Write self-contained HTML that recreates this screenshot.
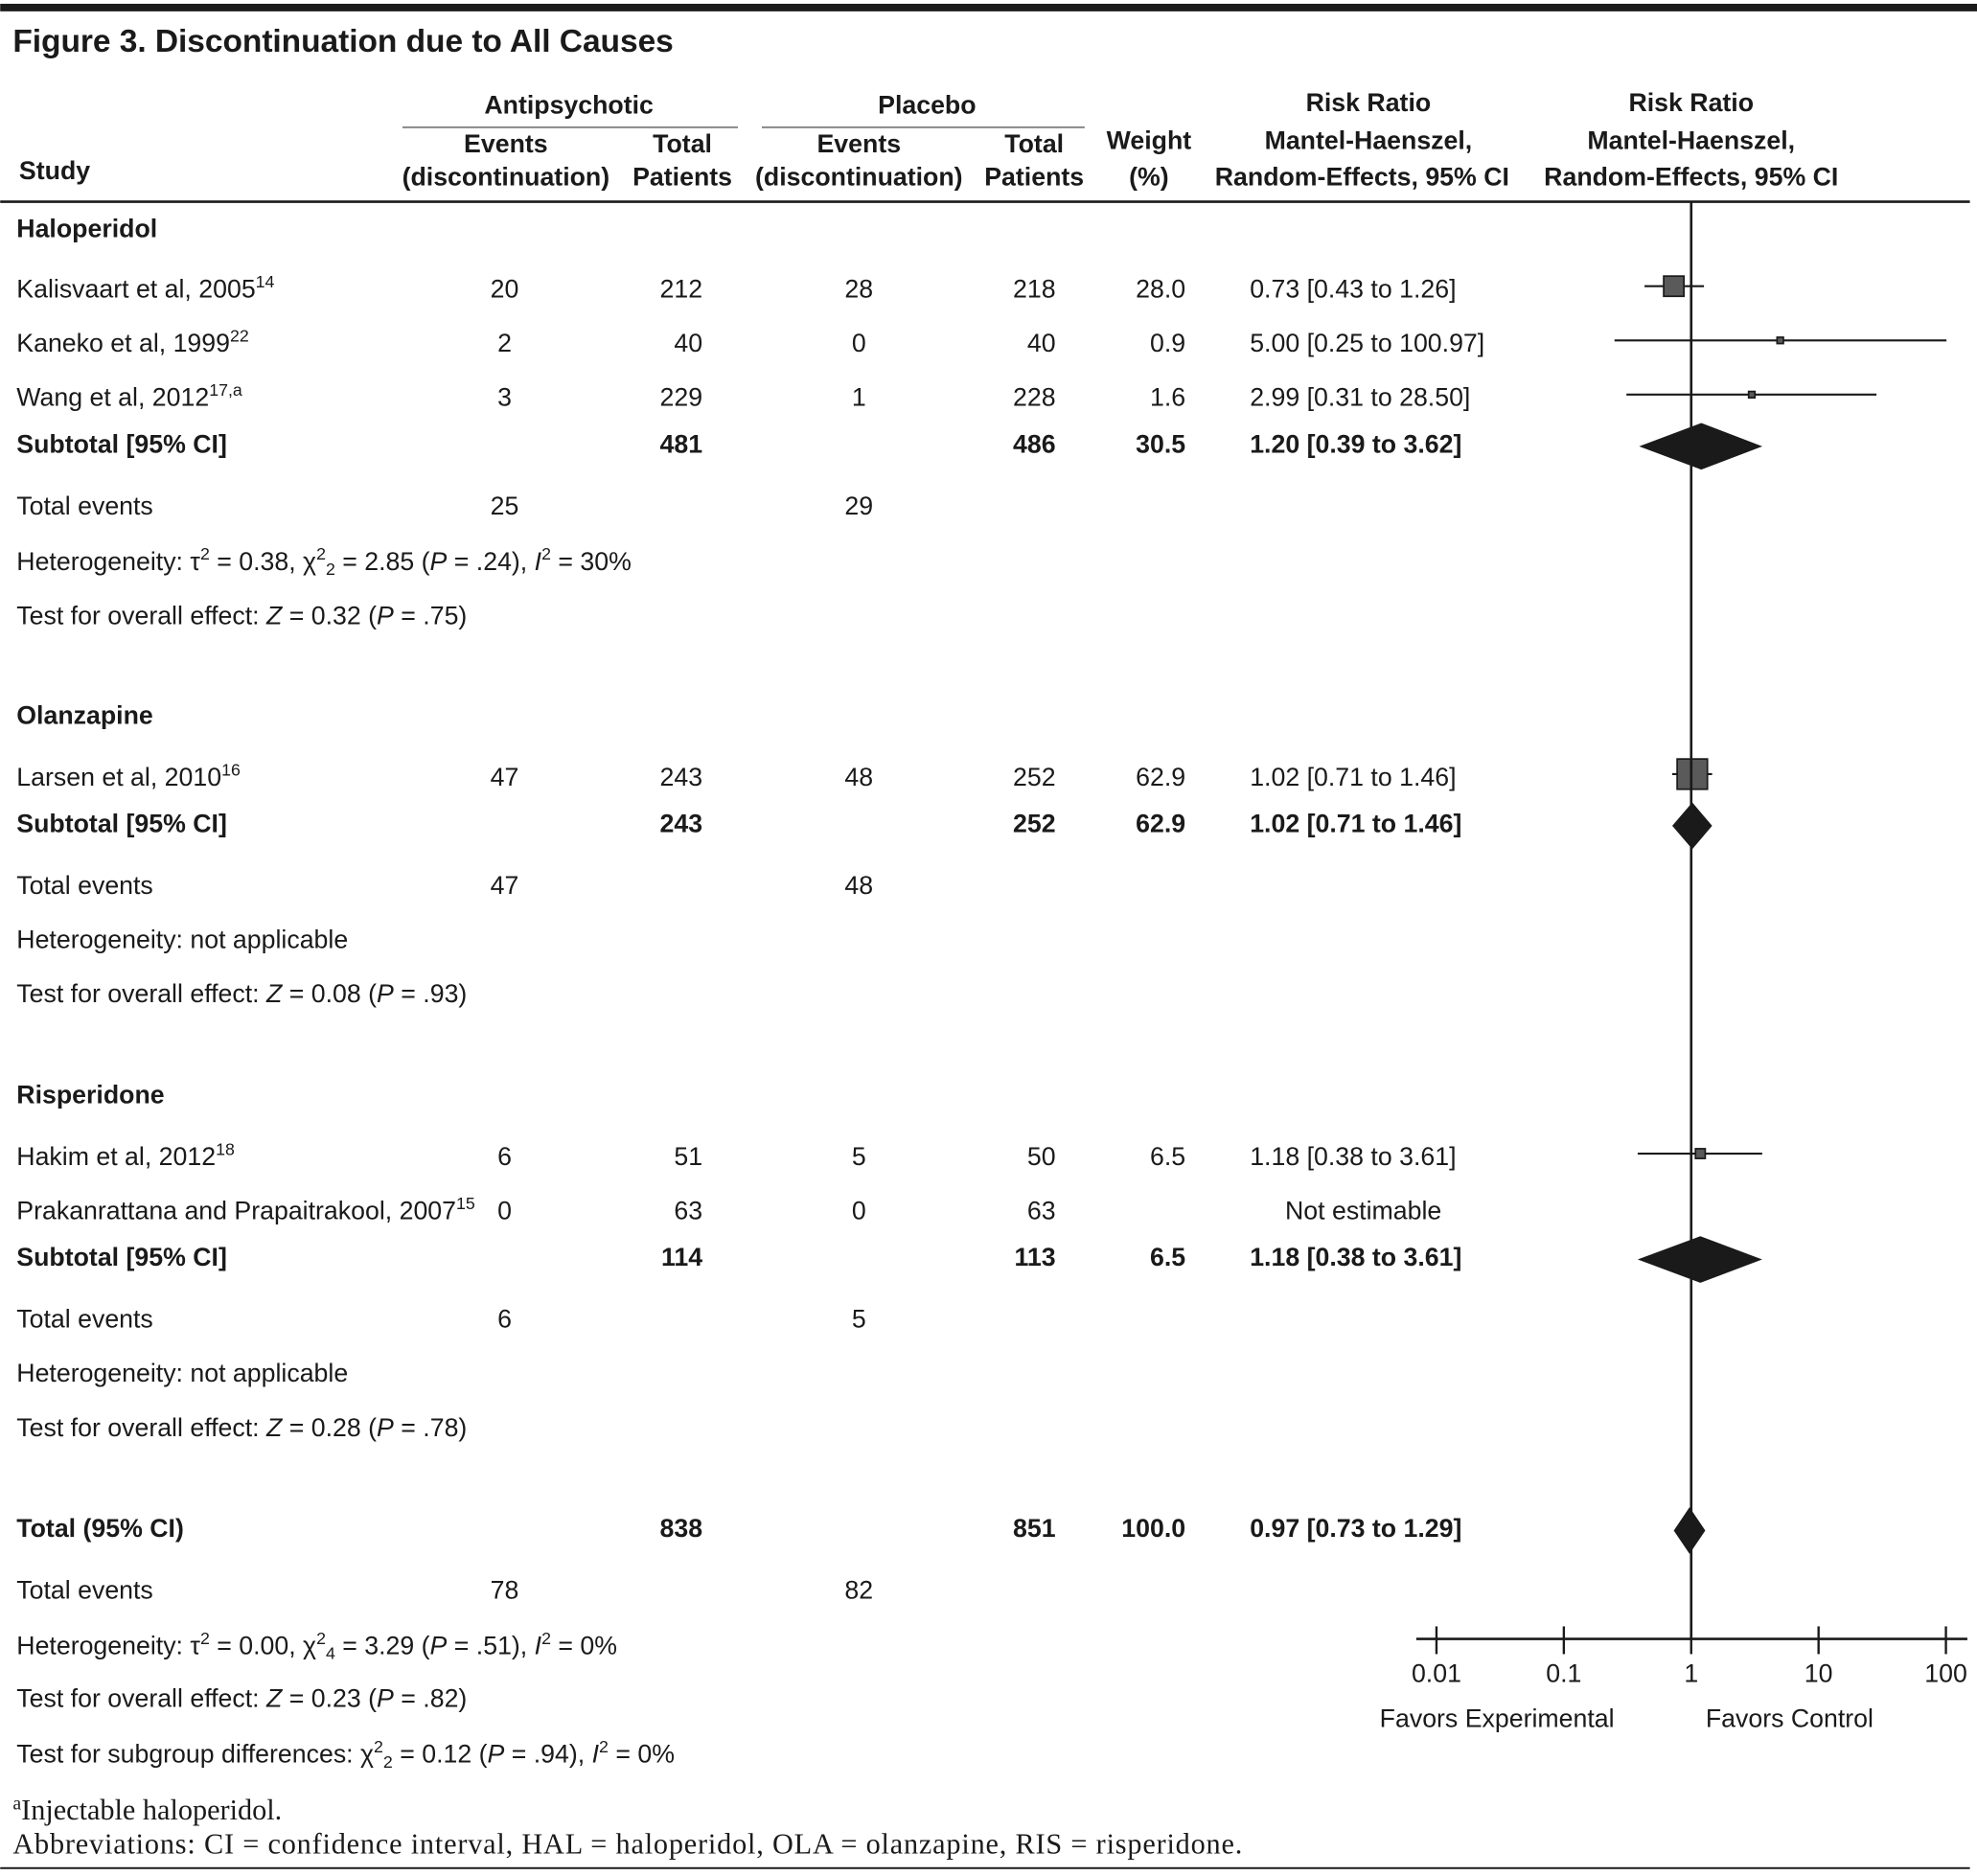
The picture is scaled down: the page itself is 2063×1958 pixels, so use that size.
<!DOCTYPE html>
<html><head><meta charset="utf-8"><style>
html,body{margin:0;padding:0;background:#fff}
svg{display:block}
text{font-family:"Liberation Sans",sans-serif;fill:#1a1a1a}
.b{font-weight:bold}
.s{font-family:"Liberation Serif",serif}
</style></head><body>
<svg id="fig" width="2063" height="1958" viewBox="0 0 1567.5 1488" xmlns="http://www.w3.org/2000/svg">
<rect x="0" y="3" width="1568" height="6" fill="#1a1a1a"/>
<text class="b" x="10" y="41" font-size="25.5" textLength="524">Figure 3. Discontinuation due to All Causes</text>
<g font-size="20.3" class="b" text-anchor="middle">
<text class="b" x="451" y="90">Antipsychotic</text>
<line x1="319" x2="585" y1="101" y2="101" stroke="#888" stroke-width="1.5"/>
<text class="b" x="735" y="90">Placebo</text>
<line x1="604" x2="860" y1="101" y2="101" stroke="#888" stroke-width="1.5"/>
<text class="b" x="401" y="121">Events</text><text class="b" x="401" y="147">(discontinuation)</text>
<text class="b" x="541" y="121">Total</text><text class="b" x="541" y="147">Patients</text>
<text class="b" x="681" y="121">Events</text><text class="b" x="681" y="147">(discontinuation)</text>
<text class="b" x="820" y="121">Total</text><text class="b" x="820" y="147">Patients</text>
<text class="b" x="911" y="118">Weight</text><text class="b" x="911" y="147">(%)</text>
<text class="b" x="1085" y="88">Risk Ratio</text><text class="b" x="1085" y="118">Mantel-Haenszel,</text><text class="b" x="1080" y="147">Random-Effects, 95% CI</text>
<text class="b" x="1341" y="88">Risk Ratio</text><text class="b" x="1341" y="118">Mantel-Haenszel,</text><text class="b" x="1341" y="147">Random-Effects, 95% CI</text>
<text class="b" x="15" y="142" text-anchor="start">Study</text>
</g>
<rect x="0" y="159" width="1562" height="2" fill="#1a1a1a"/>
<g id="rows" font-size="20.3"></g>
<g id="plot"></g>
<text class="s" x="10" y="1443" font-size="23"><tspan font-size="15" dy="-8">a</tspan><tspan dy="8">Injectable haloperidol.</tspan></text>
<text class="s" x="10" y="1470" font-size="23" textLength="975">Abbreviations: CI = confidence interval, HAL = haloperidol, OLA = olanzapine, RIS = risperidone.</text>
<rect x="0" y="1481" width="1562" height="1.5" fill="#1a1a1a"/>
</svg>
<script>
// ---- data ----
const studyNames = ["Kalisvaart et al, 2005","Kaneko et al, 1999","Wang et al, 2012","Larsen et al, 2010","Hakim et al, 2012","Prakanrattana and Prapaitrakool, 2007"];
const studyRefs = ["14","22","17,a","16","18","15"];
const apEvents = [20,2,3,47,6,0];
const apTotals = [212,40,229,243,51,63];
const plEvents = [28,0,1,48,5,0];
const plTotals = [218,40,228,252,50,63];
const weights = [28.0,0.9,1.6,62.9,6.5,null];
const rr = [0.73,5.00,2.99,1.02,1.18,null];
const ciLow = [0.43,0.25,0.31,0.71,0.38,null];
const ciHigh = [1.26,100.97,28.50,1.46,3.61,null];
const studyY = [236,279,322,623,924,967];
const subLabels = ["Subtotal [95% CI]","Subtotal [95% CI]","Subtotal [95% CI]","Total (95% CI)"];
const subApTotal = [481,243,114,838];
const subPlTotal = [486,252,113,851];
const subWeight = [30.5,62.9,6.5,100.0];
const subRR = [1.20,1.02,1.18,0.97];
const subLow = [0.39,0.71,0.38,0.73];
const subHigh = [3.62,1.46,3.61,1.29];
const subY = [359,660,1004,1219];
const axisTicks = [0.01,0.1,1,10,100];
const axisTickLabels = ["0.01","0.1","1","10","100"];

const NS="http://www.w3.org/2000/svg";
const rows=document.getElementById('rows'), plot=document.getElementById('plot');
function mk(p,tag,attrs,txt){const e=document.createElementNS(NS,tag);for(const k in attrs)e.setAttribute(k,attrs[k]);if(txt!==undefined)e.textContent=txt;p.appendChild(e);return e;}
const xScale=v=>1341+101*Math.log10(v);
function fmt(v,d){return v.toFixed(d);}
function ci(r,l,h){return fmt(r,2)+" ["+fmt(l,2)+" to "+fmt(h,2)+"]";}

const lines=[
 ["group-haloperidol",13,188,"Haloperidol",true],
 ["group-olanzapine",13,574,"Olanzapine",true],
 ["group-risperidone",13,875,"Risperidone",true]
];
lines.forEach(l=>{const t=mk(rows,'text',{x:l[1],y:l[2],class:l[4]?'b':''},l[3]);

});

function txt(name,x,y,s,anchor,bold){const t=mk(rows,'text',{x:x,y:y,'text-anchor':anchor||'start',class:bold?'b':''},s);

return t;}

studyNames.forEach((n,i)=>{
 const y=studyY[i];
 const t=txt('study-label',13,y,'');
 mk(t,'tspan',{},n);
 mk(t,'tspan',{'font-size':'13.5',dy:'-8'},studyRefs[i]);
 txt('antipsychotic-events',400,y,String(apEvents[i]),'middle');
 txt('antipsychotic-total',557,y,String(apTotals[i]),'end');
 txt('placebo-events',681,y,String(plEvents[i]),'middle');
 txt('placebo-total',837,y,String(plTotals[i]),'end');
 if(weights[i]!==null){
  txt('weight',940,y,fmt(weights[i],1),'end');
  txt('risk-ratio-ci',991,y,ci(rr[i],ciLow[i],ciHigh[i]));
  const yl=y-9;
  const ln=mk(plot,'line',{x1:xScale(ciLow[i]),x2:Math.min(xScale(ciHigh[i]),1546),y1:yl,y2:yl,stroke:'#1a1a1a','stroke-width':1.6});
  
  
  const s=Math.max(5,24*Math.sqrt(weights[i]/62.9));
  const r=mk(plot,'rect',{x:xScale(rr[i])-s/2,y:yl-s/2,width:s,height:s,fill:'#5a5a5a',stroke:'#1a1a1a','stroke-width':1.3});
  
  
 } else {
  txt('risk-ratio-ci',1081,y,'Not estimable','middle');
 }
});
subLabels.forEach((n,i)=>{
 const y=subY[i];
 txt('subtotal-label',13,y,n,'start',true);
 txt('subtotal-antipsychotic-total',557,y,String(subApTotal[i]),'end',true);
 txt('subtotal-placebo-total',837,y,String(subPlTotal[i]),'end',true);
 txt('subtotal-weight',940,y,fmt(subWeight[i],1),'end',true);
 txt('subtotal-risk-ratio',991,y,ci(subRR[i],subLow[i],subHigh[i]),'start',true);
 const yc=y-5,h=18.5;
 const d=mk(plot,'polygon',{points:[xScale(subLow[i])+','+yc,xScale(subRR[i])+','+(yc-h),xScale(subHigh[i])+','+yc,xScale(subRR[i])+','+(yc+h)].join(' '),fill:'#1a1a1a'});
 
 
});
const sumText=[
 [408,"Total events","25","29"],[709,"Total events","47","48"],[1053,"Total events","6","5"],[1268,"Total events","78","82"]];
sumText.forEach(r=>{txt('total-events-label',13,r[0],r[1]);txt('antipsychotic-total-events',400,r[0],r[2],'middle');txt('placebo-total-events',681,r[0],r[3],'middle');});
function rich(name,y,parts){const t=txt(name,13,y,'');parts.forEach(p=>{const a={};if(p[1]==='i')a['font-style']='italic';if(p[1]==='sup'){a['font-size']='13.5';a.dy='-8';}if(p[1]==='sub'){a['font-size']='13.5';a.dy='12';}if(p[2])a.dy=p[2];mk(t,'tspan',a,p[0]);});return t;}
rich('heterogeneity-haloperidol',452,[["Heterogeneity: τ"],["2","sup"],[" = 0.38, χ","","8"],["2","sup"],["2","sub"],[" = 2.85 (","","-4"],["P","i"],[" = .24), "],["I","i"],["2","sup"],[" = 30%","","8"]]);
rich('overall-effect-haloperidol',495,[["Test for overall effect: "],["Z","i"],[" = 0.32 ("],["P","i"],[" = .75)"]]);
txt('heterogeneity-olanzapine',13,752,'Heterogeneity: not applicable');
rich('overall-effect-olanzapine',795,[["Test for overall effect: "],["Z","i"],[" = 0.08 ("],["P","i"],[" = .93)"]]);
txt('heterogeneity-risperidone',13,1096,'Heterogeneity: not applicable');
rich('overall-effect-risperidone',1139,[["Test for overall effect: "],["Z","i"],[" = 0.28 ("],["P","i"],[" = .78)"]]);
rich('heterogeneity-total',1312,[["Heterogeneity: τ"],["2","sup"],[" = 0.00, χ","","8"],["2","sup"],["4","sub"],[" = 3.29 (","","-4"],["P","i"],[" = .51), "],["I","i"],["2","sup"],[" = 0%","","8"]]);
rich('overall-effect-total',1354,[["Test for overall effect: "],["Z","i"],[" = 0.23 ("],["P","i"],[" = .82)"]]);
rich('subgroup-differences',1398,[["Test for subgroup differences: χ"],["2","sup"],["2","sub"],[" = 0.12 (","","-4"],["P","i"],[" = .94), "],["I","i"],["2","sup"],[" = 0%","","8"]]);

const vl=mk(plot,'line',{x1:xScale(1),x2:xScale(1),y1:160,y2:1300,stroke:'#1a1a1a','stroke-width':2});


const ax=mk(plot,'line',{x1:1123,x2:1560,y1:1300,y2:1300,stroke:'#1a1a1a','stroke-width':2});


axisTicks.forEach((v,i)=>{
 const tk=mk(plot,'line',{x1:xScale(v),x2:xScale(v),y1:1290,y2:1312,stroke:'#1a1a1a','stroke-width':1.8});
 
 
 const tl=mk(plot,'text',{x:xScale(v),y:1334,'text-anchor':'middle','font-size':'20.3'},axisTickLabels[i]);
 
 
});
const f1=mk(plot,'text',{x:1187,y:1370,'text-anchor':'middle','font-size':'20.3'},'Favors Experimental');


const f2=mk(plot,'text',{x:1419,y:1370,'text-anchor':'middle','font-size':'20.3'},'Favors Control');


</script>
</body></html>
